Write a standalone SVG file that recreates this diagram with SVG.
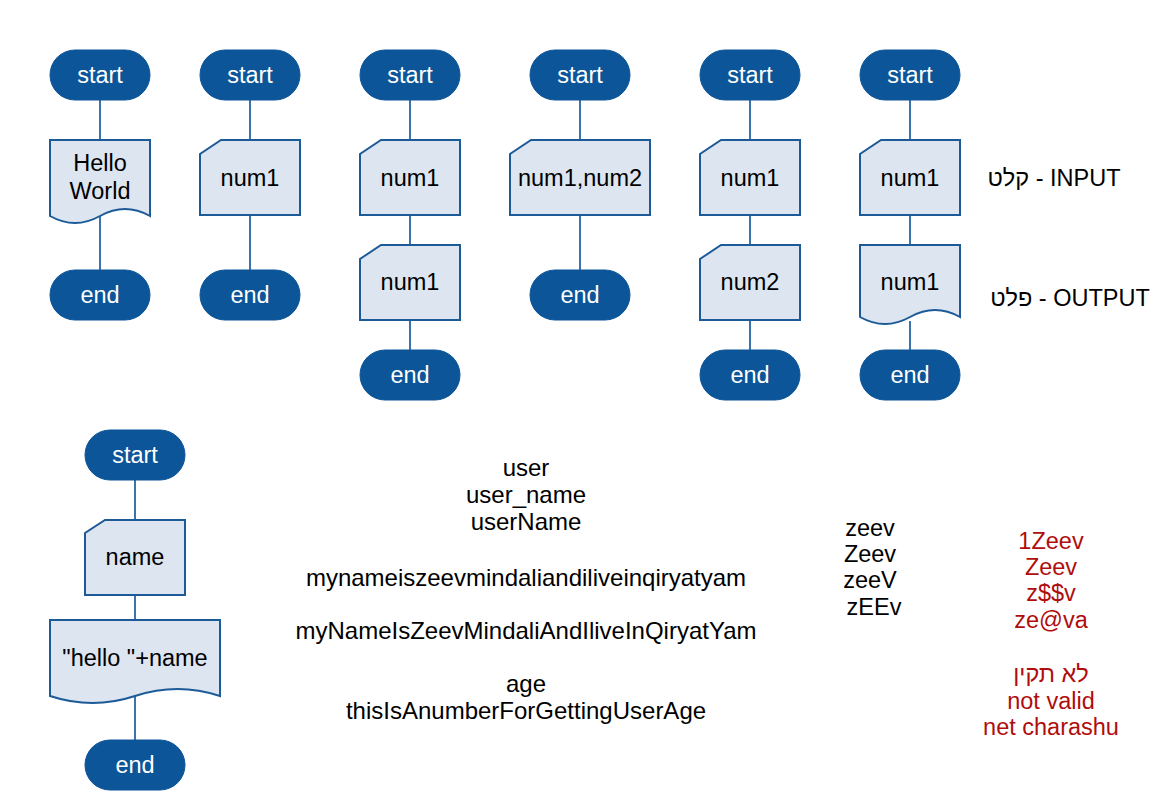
<svg xmlns="http://www.w3.org/2000/svg" width="1150" height="810" viewBox="0 0 1150 810">
<style>
text{font-family:"Liberation Sans",Arial,sans-serif;font-size:23.5px;text-anchor:middle}
#names text{font-size:24px}
.term{fill:#0c5598;stroke:#0c5598;stroke-width:1}
.tt{fill:#ffffff}
.box{fill:#dde5f1;stroke:#1d5a98;stroke-width:2}
.bt{fill:#000000}
.conn{stroke:#3b73ac;stroke-width:2;fill:none}
.lbl{fill:#000000}
.red{fill:#b00d0d}
</style>
<rect width="1150" height="810" fill="#ffffff"/>
<g id="connectors">
<path class="conn" d="M100,100V140M100,216V270"/>
<path class="conn" d="M250,100V140M250,215V270"/>
<path class="conn" d="M410,100V140M410,215V245M410,320V350"/>
<path class="conn" d="M580,100V140M580,215V270"/>
<path class="conn" d="M750,100V140M750,215V245M750,320V350"/>
<path class="conn" d="M910,100V140M910,215V245M910,321V350"/>
<path class="conn" d="M135,480V520M135,595V620M135,696V740"/>
</g>
<!-- column 1 -->
<g id="start1"><rect class="term" x="50" y="50" width="100" height="50" rx="25"/><text class="tt" x="100" y="83">start</text></g>
<g id="doc1"><path class="box" d="M50,140H150V216Q125,202 100,216Q75,230 50,216Z"/><text class="bt" x="100" y="171">Hello</text><text class="bt" x="100" y="199">World</text></g>
<g id="end1"><rect class="term" x="50" y="270" width="100" height="50" rx="25"/><text class="tt" x="100" y="303">end</text></g>
<!-- column 2 -->
<g id="start2"><rect class="term" x="200" y="50" width="100" height="50" rx="25"/><text class="tt" x="250" y="83">start</text></g>
<g id="in2"><path class="box" d="M221,140H300V215H200V154Z"/><text class="bt" x="250" y="186">num1</text></g>
<g id="end2"><rect class="term" x="200" y="270" width="100" height="50" rx="25"/><text class="tt" x="250" y="303">end</text></g>
<!-- column 3 -->
<g id="start3"><rect class="term" x="360" y="50" width="100" height="50" rx="25"/><text class="tt" x="410" y="83">start</text></g>
<g id="in3"><path class="box" d="M381,140H460V215H360V154Z"/><text class="bt" x="410" y="186">num1</text></g>
<g id="in3b"><path class="box" d="M381,245H460V320H360V259Z"/><text class="bt" x="410" y="290">num1</text></g>
<g id="end3"><rect class="term" x="360" y="350" width="100" height="50" rx="25"/><text class="tt" x="410" y="383">end</text></g>
<!-- column 4 -->
<g id="start4"><rect class="term" x="530" y="50" width="100" height="50" rx="25"/><text class="tt" x="580" y="83">start</text></g>
<g id="in4"><path class="box" d="M531,140H650V215H510V154Z"/><text class="bt" x="580" y="186">num1,num2</text></g>
<g id="end4"><rect class="term" x="530" y="270" width="100" height="50" rx="25"/><text class="tt" x="580" y="303">end</text></g>
<!-- column 5 -->
<g id="start5"><rect class="term" x="700" y="50" width="100" height="50" rx="25"/><text class="tt" x="750" y="83">start</text></g>
<g id="in5"><path class="box" d="M721,140H800V215H700V154Z"/><text class="bt" x="750" y="186">num1</text></g>
<g id="in5b"><path class="box" d="M721,245H800V320H700V259Z"/><text class="bt" x="750" y="290">num2</text></g>
<g id="end5"><rect class="term" x="700" y="350" width="100" height="50" rx="25"/><text class="tt" x="750" y="383">end</text></g>
<!-- column 6 -->
<g id="start6"><rect class="term" x="860" y="50" width="100" height="50" rx="25"/><text class="tt" x="910" y="83">start</text></g>
<g id="in6"><path class="box" d="M881,140H960V215H860V154Z"/><text class="bt" x="910" y="186">num1</text></g>
<g id="doc6"><path class="box" d="M860,245H960V317Q935,303 910,317Q885,331 860,317Z"/><text class="bt" x="910" y="290">num1</text></g>
<g id="end6"><rect class="term" x="860" y="350" width="100" height="50" rx="25"/><text class="tt" x="910" y="383">end</text></g>
<!-- side labels -->
<g id="labels">
<text class="lbl" x="1054" y="186">קלט - INPUT</text>
<text class="lbl" x="1070" y="306">פלט - OUTPUT</text>
</g>
<!-- bottom flowchart -->
<g id="start7"><rect class="term" x="85" y="430" width="100" height="50" rx="25"/><text class="tt" x="135" y="463">start</text></g>
<g id="in7"><path class="box" d="M105,520H185V595H85V533Z"/><text class="bt" x="135" y="565">name</text></g>
<g id="doc7"><path class="box" d="M50,620H220V696Q177.5,682 135,696Q92.5,710 50,696Z"/><text class="bt" x="135" y="666">"hello "+name</text></g>
<g id="end7"><rect class="term" x="85" y="740" width="100" height="50" rx="25"/><text class="tt" x="135" y="773">end</text></g>
<!-- names text -->
<g id="names">
<text class="lbl" x="526" y="476">user</text>
<text class="lbl" x="526" y="503">user_name</text>
<text class="lbl" x="526" y="530">userName</text>
<text class="lbl" x="526" y="586">mynameiszeevmindaliandiliveinqiryatyam</text>
<text class="lbl" x="526" y="639">myNameIsZeevMindaliAndIliveInQiryatYam</text>
<text class="lbl" x="526" y="692">age</text>
<text class="lbl" x="526" y="719">thisIsAnumberForGettingUserAge</text>
</g>
<g id="valid">
<text class="lbl" x="870" y="536">zeev</text>
<text class="lbl" x="870" y="562">Zeev</text>
<text class="lbl" x="870" y="588">zeeV</text>
<text class="lbl" x="874" y="615">zEEv</text>
</g>
<g id="invalid">
<text class="red" x="1051" y="549">1Zeev</text>
<text class="red" x="1051" y="575">Zeev</text>
<text class="red" x="1051" y="601">z$$v</text>
<text class="red" x="1051" y="628">ze@va</text>
<text class="red" x="1051" y="682">לא תקין</text>
<text class="red" x="1051" y="709">not valid</text>
<text class="red" x="1051" y="735">net charashu</text>
</g>
</svg>
